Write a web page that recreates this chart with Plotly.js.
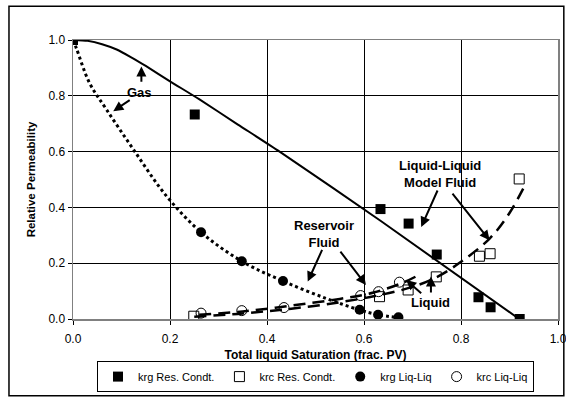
<!DOCTYPE html>
<html>
<head>
<meta charset="utf-8">
<script src="https://cdn.plot.ly/plotly-3.0.1.min.js"></script>
<style>html,body{margin:0;padding:0;background:#fff;}#chart{width:566px;height:400px;}</style>
</head>
<body>
<div id="chart"></div>
<script>
// Measured points
const krgResX = [0.0, 0.251, 0.634, 0.692, 0.750, 0.836, 0.861, 0.921];
const krgResY = [1.0, 0.733, 0.394, 0.342, 0.231, 0.078, 0.042, 0.0];
const krcResX = [0.249, 0.632, 0.691, 0.749, 0.838, 0.860, 0.920];
const krcResY = [0.010, 0.080, 0.104, 0.151, 0.225, 0.234, 0.502];
const krgLLX = [0.0, 0.264, 0.348, 0.433, 0.591, 0.629, 0.671];
const krgLLY = [1.0, 0.311, 0.207, 0.136, 0.033, 0.015, 0.006];
const krcLLX = [0.264, 0.348, 0.435, 0.593, 0.630, 0.673];
const krcLLY = [0.021, 0.030, 0.041, 0.084, 0.098, 0.132];

// Fitted curves
const fitKrgResX = [0.0, 0.03, 0.06, 0.09, 0.12, 0.15, 0.2, 0.26, 0.34, 0.426, 0.634, 0.92];
const fitKrgResY = [1.0, 0.997, 0.985, 0.966, 0.938, 0.907, 0.852, 0.788, 0.697, 0.600, 0.352, 0.0];
const fitKrgLLX = [0.0, 0.007, 0.034, 0.069, 0.124, 0.193, 0.264, 0.348, 0.433, 0.52, 0.59, 0.63, 0.67];
const fitKrgLLY = [1.0, 0.97, 0.846, 0.751, 0.609, 0.44, 0.311, 0.207, 0.136, 0.075, 0.033, 0.015, 0.005];
const fitKrcResX = [0.25, 0.35, 0.45, 0.55, 0.63, 0.70, 0.75, 0.80, 0.86, 0.90, 0.935];
const fitKrcResY = [0.008, 0.02, 0.037, 0.06, 0.085, 0.115, 0.15, 0.205, 0.29, 0.38, 0.49];
const fitKrcLLX = [0.26, 0.35, 0.45, 0.55, 0.62, 0.68, 0.71];
const fitKrcLLY = [0.015, 0.027, 0.048, 0.072, 0.095, 0.13, 0.155];

const xTicks = [0, 0.2, 0.4, 0.6, 0.8, 1.0];
const yTicks = [0, 0.2, 0.4, 0.6, 0.8, 1.0];

const F = "Arial, 'Liberation Sans', sans-serif";

const traces = [
  {x: fitKrgResX, y: fitKrgResY, mode: 'lines', line: {color: '#000', width: 2, shape: 'spline', smoothing: 0.6}, showlegend: false, hoverinfo: 'skip'},
  {x: fitKrgLLX, y: fitKrgLLY, mode: 'lines', line: {color: '#000', width: 3, dash: 'dot', shape: 'spline'}, showlegend: false, hoverinfo: 'skip'},
  {x: fitKrcResX, y: fitKrcResY, mode: 'lines', line: {color: '#000', width: 2.5, dash: '12px,7px', shape: 'spline'}, showlegend: false, hoverinfo: 'skip'},
  {x: fitKrcLLX, y: fitKrcLLY, mode: 'lines', line: {color: '#000', width: 2.5, dash: '12px,7px', shape: 'spline'}, showlegend: false, hoverinfo: 'skip'},
  {x: krgResX, y: krgResY, mode: 'markers', name: 'krg Res. Condt.', marker: {symbol: 'square', size: 10, color: '#000'}},
  {x: krcResX, y: krcResY, mode: 'markers', name: 'krc Res. Condt.', marker: {symbol: 'square-open', size: 10, color: '#000', line: {width: 1}}},
  {x: krgLLX, y: krgLLY, mode: 'markers', name: 'krg Liq-Liq', marker: {symbol: 'circle', size: 10, color: '#000'}},
  {x: krcLLX, y: krcLLY, mode: 'markers', name: 'krc Liq-Liq', marker: {symbol: 'circle-open', size: 10, color: '#000', line: {width: 1}}}
];

function arrow(x, y, ax, ay) {
  return {x: x, y: y, ax: ax, ay: ay, xref: 'x', yref: 'y', axref: 'x', ayref: 'y', text: '', showarrow: true,
          arrowhead: 2, arrowsize: 1, arrowwidth: 2, arrowcolor: '#000'};
}
function label(x, y, t) {
  return {x: x, y: y, xref: 'x', yref: 'y', text: t, showarrow: false, font: {family: F, size: 13, color: '#000'}, align: 'center'};
}

const annotations = [
  label(0.138, 0.813, '<b>Gas</b>'),
  arrow(0.141, 0.905, 0.141, 0.845),
  arrow(0.083, 0.745, 0.12, 0.788),
  label(0.518, 0.306, '<b>Reservoir<br>Fluid</b>'),
  arrow(0.484, 0.134, 0.515, 0.253),
  arrow(0.604, 0.122, 0.549, 0.247),
  label(0.756, 0.52, '<b>Liquid-Liquid<br>Model Fluid</b>'),
  arrow(0.718, 0.330, 0.753, 0.466),
  arrow(0.859, 0.282, 0.780, 0.455),
  label(0.738, 0.06, '<b>Liquid</b>'),
  arrow(0.738, 0.152, 0.738, 0.09),
  arrow(0.687, 0.140, 0.721, 0.088)
];

const layout = {
  width: 566, height: 400,
  margin: {l: 73, r: 8, t: 40, b: 79},
  paper_bgcolor: '#fff', plot_bgcolor: '#fff',
  font: {family: F, size: 12, color: '#000'},
  xaxis: {range: [0, 1.0], tickvals: xTicks, tickformat: '.1f', showgrid: true, gridcolor: '#000', gridwidth: 1,
          zeroline: false, showline: true, linecolor: '#808080', linewidth: 1.5, mirror: true, automargin: false,
          ticks: 'outside', ticklen: 4, tickcolor: '#000', ticklabelstandoff: 4, ticklabeloverflow: 'allow',
          tickfont: {family: F, size: 12, color: '#000'},
          title: {text: '<b>Total liquid Saturation (frac. PV)</b>', font: {family: F, size: 12, color: '#000'}, standoff: 5}},
  yaxis: {range: [0, 1.0], tickvals: yTicks, tickformat: '.1f', showgrid: true, gridcolor: '#000', gridwidth: 1,
          zeroline: false, showline: true, linecolor: '#808080', linewidth: 1.5, mirror: true, automargin: false,
          ticks: 'outside', ticklen: 4, tickcolor: '#000', ticklabeloverflow: 'allow',
          tickfont: {family: F, size: 12, color: '#000'},
          title: {text: '<b>Relative Permeability</b>', font: {family: F, size: 11.5, color: '#000'}, standoff: 10}},
  legend: {orientation: 'h', x: 0.5, xanchor: 'center', y: -0.262, yanchor: 'bottom', bordercolor: '#000', borderwidth: 1,
           font: {family: F, size: 11, color: '#000'}, itemwidth: 30, tracegroupgap: 0, bgcolor: '#fff'},
  annotations: annotations,
  shapes: [{type: 'rect', xref: 'paper', yref: 'paper', x0: -0.132, x1: 1.012, y0: -0.275, y1: 1.121,
            line: {color: '#000', width: 1.5}, fillcolor: 'rgba(0,0,0,0)', layer: 'below'}],
  showlegend: true
};

Plotly.newPlot('chart', traces, layout, {displayModeBar: false, staticPlot: true});
</script>
</body>
</html>
